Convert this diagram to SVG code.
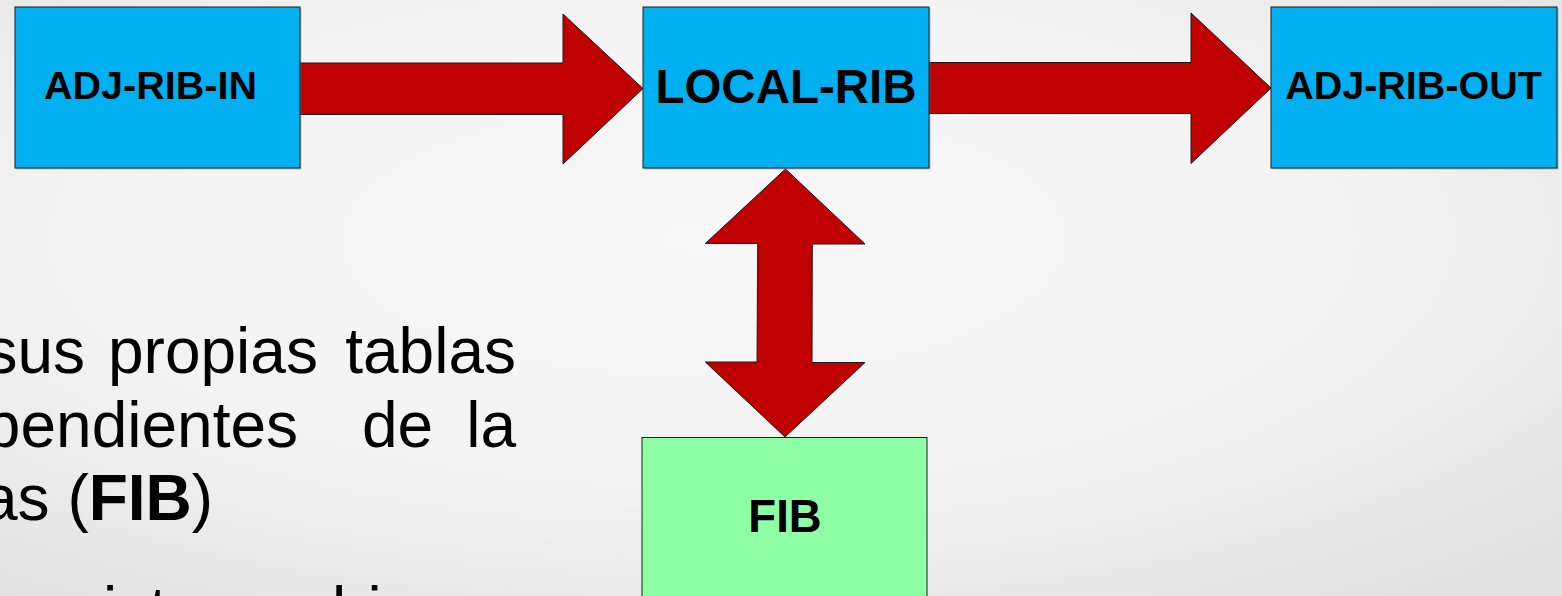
<svg xmlns="http://www.w3.org/2000/svg" width="1562" height="596" viewBox="0 0 1562 596">
  <defs>
    <radialGradient id="bg" cx="0.45" cy="0.4" r="0.75">
      <stop offset="0" stop-color="#f8f8f8"/>
      <stop offset="0.55" stop-color="#f3f3f3"/>
      <stop offset="1" stop-color="#e2e2e2"/>
    </radialGradient>
    <style>
      .box { stroke: #1c1c1c; stroke-width: 1; }
      .rib { fill: #00b0f0; }
      .fib { fill: #8fffa6; }
      .shadow { fill: #7a7a7a; opacity: 0.45; }
      .arrow { fill: #c00000; stroke: #1a1a1a; stroke-width: 1; stroke-linejoin: miter; }
      .label { font-family: "Liberation Sans", Arial, sans-serif; font-weight: bold; fill: #000; text-anchor: middle; }
      .body { font-family: "Liberation Sans", Arial, sans-serif; font-size: 64px; fill: #000; }
    </style>
  </defs>

  <!-- slide background -->
  <rect x="0" y="0" width="1562" height="596" fill="url(#bg)"/>

  <!-- body text (justified paragraph, running off the left edge) -->
  <g id="body-text" class="body">
    <text y="373" x="85" text-anchor="end">sus</text>
    <text y="373" x="108">propias</text>
    <text y="373" x="516" text-anchor="end">tablas</text>
    <text y="447" x="298" text-anchor="end">pendientes</text>
    <text y="447" x="362">de</text>
    <text y="447" x="516" text-anchor="end">la</text>
    <text y="520"><tspan x="-18">as (</tspan><tspan font-weight="bold">FIB</tspan><tspan>)</tspan></text>
    <text y="632"><tspan x="35.5">existe</tspan><tspan x="211">cambio</tspan></text>
  </g>

  <!-- connectors: block arrows -->
  <g id="connectors">
    <polygon id="in-to-local" class="arrow" points="300,63 563,63 563,14 643,88.5 563,164 563,114.5 300,114.5"/>
    <polygon id="local-to-out" class="arrow" points="929,62.5 1191,62.5 1191,13 1271,88 1191,163.5 1191,113.5 929,113.5"/>
    <polygon id="local-fib" class="arrow" points="785.5,169 865,244 812.3,244 812,362.5 865,362.5 785,437 705.3,362 757,362 757.7,243.5 705.3,243.5"/>
  </g>

  <!-- nodes -->
  <g id="adj-rib-in">
    <rect class="shadow" x="16.5" y="8.5" width="285" height="161"/>
    <rect class="box rib" x="15" y="7" width="285" height="161"/>
    <text class="label" x="150.5" y="99" font-size="39.5">ADJ-RIB-IN</text>
  </g>
  <g id="local-rib">
    <rect class="shadow" x="644.5" y="8.5" width="286" height="161"/>
    <rect class="box rib" x="643" y="7" width="286" height="161"/>
    <text class="label" x="786" y="102.5" font-size="47.5">LOCAL-RIB</text>
  </g>
  <g id="adj-rib-out">
    <rect class="shadow" x="1272.5" y="8.5" width="286" height="161"/>
    <rect class="box rib" x="1271" y="7" width="286" height="161"/>
    <text class="label" x="1413.5" y="99" font-size="39.5">ADJ-RIB-OUT</text>
  </g>
  <g id="fib">
    <rect class="box fib" x="642" y="437.5" width="285" height="170"/>
    <text class="label" x="785" y="531.5" font-size="45.5">FIB</text>
  </g>
</svg>
